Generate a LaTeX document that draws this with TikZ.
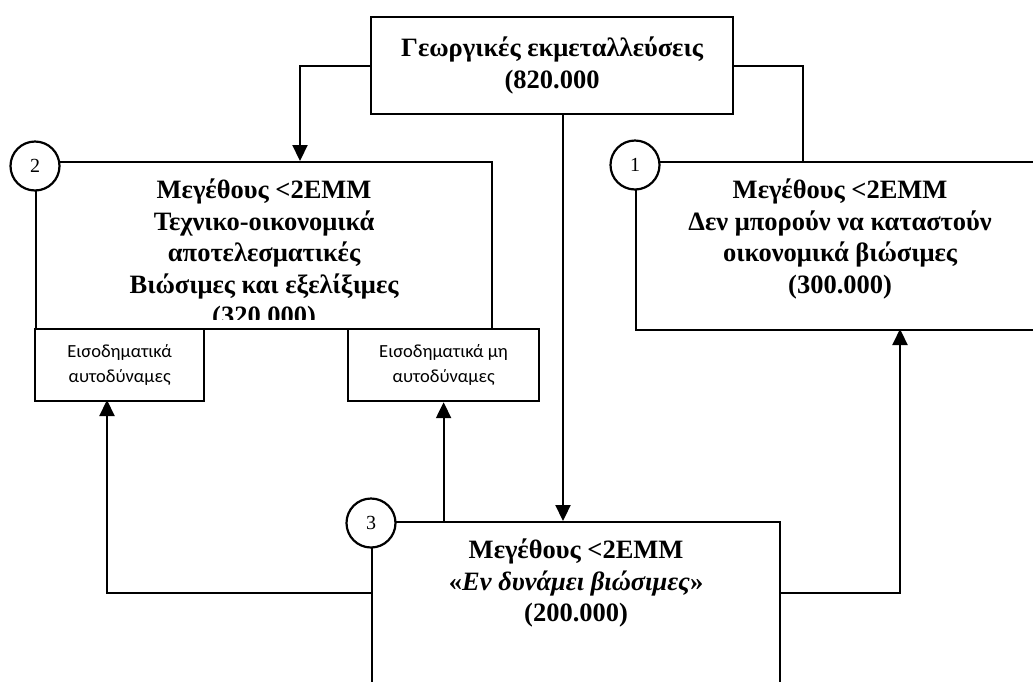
\documentclass[tikz,border=0pt]{standalone}
\usepackage{fontspec}
\setmainfont{Liberation Serif}
\newfontfamily\calfont{Carlito}
\usetikzlibrary{arrows.meta,positioning}

\begin{document}
\begin{tikzpicture}[>={Triangle[width=15pt,length=16pt]},x=1pt,y=-1pt,line width=2.2pt,
    box/.style={draw, rectangle, inner sep=0pt, anchor=north west},
    num/.style={circle, draw, fill=white, minimum size=49pt, inner sep=0pt, font=\fontsize{20}{20}\selectfont},
    bold/.style={font=\bfseries\fontsize{26.5}{31.5}\selectfont, align=center, inner sep=0pt},
    small/.style={font=\calfont\fontsize{18.5}{24.5}\selectfont, align=center}]
                \useasboundingbox (0,0) rectangle (1033,681);
                \clip (0,0) rectangle (1033,681);

                % boxes
                \node[box, bold, minimum width=362pt, minimum height=97pt] (farms) at (370,16) {Γεωργικές εκμεταλλεύσεις\\(820.000};
                \node[box, minimum width=456pt, minimum height=167pt] (viable) at (35,161) {};
                \node[box, minimum width=408pt, minimum height=168pt] (nonviable) at (635,161) {};
                \node[box, minimum width=408pt, minimum height=200pt] (potential) at (371,521) {};
                \node[box, small, minimum width=169pt, minimum height=72pt] (selfsuf) at (34,328) {Εισοδηματικά\\αυτοδύναμες};
                \node[box, small, minimum width=191pt, minimum height=72pt] (notselfsuf) at (347,328) {Εισοδηματικά μη\\αυτοδύναμες};

                \begin{scope}
                    \clip (viable.north west) rectangle ([yshift=11pt]viable.south east);
                    \node[bold, below=17pt of viable.north] (viableTxt) {Μεγέθους <2ΕΜΜ\\Τεχνικο-οικονομικά\\αποτελεσματικές\\Βιώσιμες και εξελίξιμες\\(320.000)};
                \end{scope}
                \node[bold, below=17pt of nonviable.north] (nonviableTxt) {Μεγέθους <2ΕΜΜ\\Δεν μπορούν να καταστούν\\οικονομικά βιώσιμες\\(300.000)};
                \node[bold, below=17pt of potential.north] (potentialTxt) {Μεγέθους <2ΕΜΜ\\«\textit{Εν δυνάμει βιώσιμες}»\\(200.000)};

                \node[num] (n2) at (35,166) {2};
                \node[num] (n1) at (635,165) {1};
                \node[num] (n3) at (371,523) {3};

                % connectors
                \coordinate (viableIn) at (300,161);
                \coordinate (nonviableTop) at (803,161);
                \coordinate (farmsOut) at (563,113);
                \coordinate (potLeft) at (371,593);
                \coordinate (potRight) at (779,593);
                \coordinate (selfsufIn) at (107,400);
                \coordinate (nonviableIn) at (900,329);

                \draw[->] (farms.west) -| (viableIn);
                \draw (farms.east) -| (nonviableTop);
                \draw[->] (farmsOut) -- (farmsOut |- potential.north);
                \draw[->] (potLeft) -| (selfsufIn);
                \draw[->] (notselfsuf.south |- potential.north) -- (notselfsuf.south);
                \draw[->] (potRight) -| (nonviableIn);
             \end{tikzpicture}
\end{document}
